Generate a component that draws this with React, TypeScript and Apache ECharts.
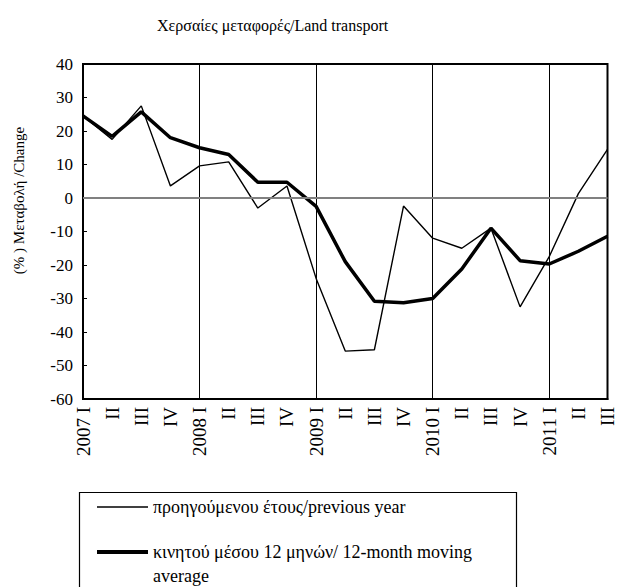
import React, { useEffect, useRef } from "react";
import * as echarts from "echarts";

const categories = ["2007 I", "II", "III", "IV", "2008 I", "II", "III", "IV", "2009 I", "II", "III", "IV", "2010 I", "II", "III", "IV", "2011 I", "II", "III"];
const previousYear = [24.5, 17.5, 27.5, 3.6, 9.6, 10.8, -3, 3.6, -24, -45.7, -45.3, -2.4, -12, -15, -9, -32.5, -17.5, 1.3, 14.5];
const movingAverage = [24.5, 18.4, 25.7, 18, 15, 13, 4.7, 4.7, -2.5, -19, -30.8, -31.3, -30, -21.2, -9, -18.7, -19.7, -15.9, -11.4];
const yTicks = { min: -60, max: 40, interval: 10 };

const titleText = "Χερσαίες μεταφορές/Land transport";
const yName = "(% ) Μεταβολή /Change";
const name1 = "προηγούμενου έτους/previous year";
const name2 = "κινητού μέσου 12 μηνών/ 12-month moving average";

const FONT = "'Liberation Serif', 'DejaVu Serif', serif";

export default function App() {
  const ref = useRef<HTMLDivElement>(null);
  useEffect(() => {
    if (!ref.current) return;
    const chart = echarts.init(ref.current, null, { renderer: "svg" });
    chart.setOption({
      animation: false,
      backgroundColor: "#fff",
      title: {
        text: titleText,
        left: 157,
        top: 17,
        padding: 0,
        textStyle: { fontFamily: FONT, fontSize: 16, fontWeight: "normal", color: "#000" },
      },
      grid: {
        left: 83,
        top: 64,
        right: 3,
        bottom: 188,
        show: true,
        borderColor: "#000",
        borderWidth: 2,
        containLabel: false,
      },
      xAxis: {
        type: "category",
        data: categories,
        boundaryGap: false,
        axisLine: { onZero: false, lineStyle: { color: "#000", width: 2 } },
        axisTick: { show: false },
        axisLabel: {
          interval: 0,
          rotate: 90,
          margin: 8,
          fontFamily: FONT,
          fontSize: 19,
          color: "#000",
        },
        splitLine: {
          show: true,
          interval: (index: number) => index % 4 === 0,
          lineStyle: { color: "#000", width: 1 },
        },
      },
      yAxis: {
        type: "value",
        min: yTicks.min,
        max: yTicks.max,
        interval: yTicks.interval,
        name: yName,
        nameLocation: "middle",
        nameGap: 57,
        nameTextStyle: { fontFamily: FONT, fontSize: 15, color: "#000", padding: [0, 0, 0, 62] },
        axisLine: { show: true, lineStyle: { color: "#000", width: 2 } },
        axisTick: { show: true, inside: true, length: 4, lineStyle: { color: "#000" } },
        axisLabel: { fontFamily: FONT, fontSize: 17, color: "#000", margin: 10 },
        splitLine: { show: false },
      },
      legend: [
        {
          data: [name1],
          left: 97,
          top: 498,
          padding: 0,
          icon: "rect",
          itemWidth: 51,
          itemHeight: 1.5,
          textStyle: { fontFamily: FONT, fontSize: 18, color: "#000" },
        },
        {
          data: [name2],
          left: 97,
          top: 516,
          padding: 0,
          icon: "rect",
          itemWidth: 51,
          itemHeight: 4,
          formatter: () => "\nκινητού μέσου 12 μηνών/ 12-month moving\naverage",
          textStyle: { fontFamily: FONT, fontSize: 18, color: "#000", lineHeight: 24 },
        },
      ],
      graphic: [
        {
          type: "rect",
          shape: { x: 79.5, y: 492.5, width: 437, height: 110 },
          style: { fill: "none", stroke: "#000", lineWidth: 1.2 },
          silent: true,
        },
      ],
      series: [
        {
          name: name1,
          type: "line",
          data: previousYear,
          symbol: "none",
          lineStyle: { color: "#000", width: 1.4 },
          itemStyle: { color: "#000" },
          markLine: {
            silent: true,
            symbol: "none",
            label: { show: false },
            lineStyle: { color: "#808080", width: 2, type: "solid" },
            data: [{ yAxis: 0 }],
          },
          z: 3,
        },
        {
          name: name2,
          type: "line",
          data: movingAverage,
          symbol: "none",
          lineStyle: { color: "#000", width: 3.5 },
          itemStyle: { color: "#000" },
          z: 4,
        },
      ],
    });
    return () => chart.dispose();
  }, []);
  return <div ref={ref} style={{ width: 617, height: 587, position: "absolute", left: 0, top: 0 }} />;
}
